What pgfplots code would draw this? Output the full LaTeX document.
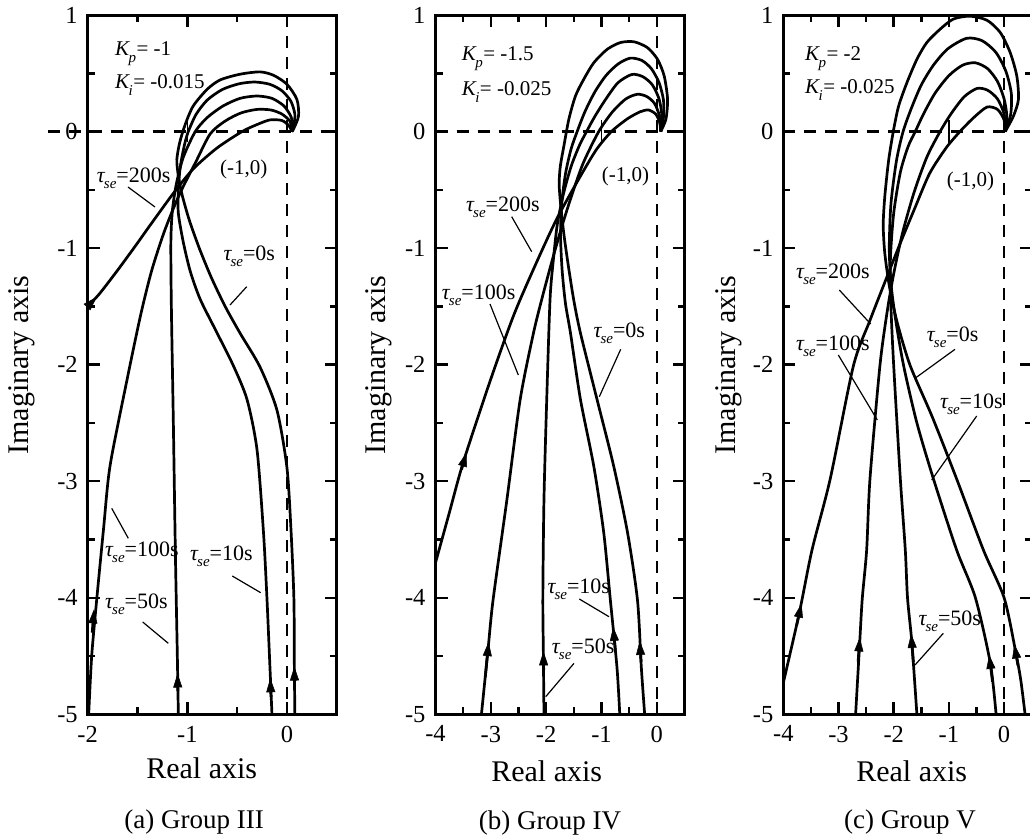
\documentclass[border=0pt]{standalone}
\usepackage{fontspec}
\setmainfont{Liberation Serif}
\usepackage{pgfplots}
\pgfplotsset{compat=1.18}
\usetikzlibrary{arrows.meta}

\newcommand{\an}{\fontsize{22}{26}\selectfont}
\newcommand{\kn}{\fontsize{21}{26}\selectfont}
\newcommand{\tlab}[1]{\textit{τ}\kern-1.5pt\raisebox{-6pt}{\fontsize{15}{15}\selectfont\textit{se}}=#1}
\newcommand{\klab}[2]{\textit{K}\kern-1.5pt\raisebox{-7pt}{\fontsize{15}{15}\selectfont\textit{#1}}\kern0.5pt= #2}

\tikzset{dsh/.style={line width=2.5pt, dash pattern=on 12pt off 9pt},
  ann/.style={anchor=base west, inner sep=0pt, font=\an},
  kann/.style={anchor=base west, inner sep=0pt, font=\kn}, ld/.style={line width=1.2pt}}
\pgfplotsset{
  panel/.style={
    scale only axis, height=699.3pt, anchor=south west,
    ymin=-5, ymax=1, ytick={-5,-4,-3,-2,-1,0,1}, yticklabels={-5,-4,-3,-2,-1,0,1},
    minor x tick num=1, minor y tick num=1,
    tick align=inside, major tick length=12pt, minor tick length=7pt,
    axis line style={line width=3pt},
    every tick/.style={line width=2.5pt, black},
    tick label style={font=\fontsize{24.5}{24.5}\selectfont},
    xticklabel style={yshift=-8pt}, yticklabel style={xshift=-6.5pt},
    clip=false,
  },
  crv/.style={line width=2.7pt, black, smooth, tension=0.45, mark=none},
  arr/.style={line width=2.7pt, black, mark=none, -{Triangle[length=14pt,width=9pt,line width=0.5pt]}},
}

\begin{document}
\begin{tikzpicture}
% ---------------- (a) ----------------
\begin{axis}[panel, at={(87.7pt,-714.3pt)}, width=249pt, xmin=-2, xmax=0.5,
  xtick={-2,-1,0}, xticklabels={-2,-1,0}]
\draw[dsh] (axis cs:-2.4,0) -- (axis cs:0.39,0);
\draw[dsh] (axis cs:0,1) -- (axis cs:0,-5);
\draw[line width=1.5pt] (axis cs:-1,0.09) -- (axis cs:-1,-0.09);
% tau = 0 s
\addplot[crv] coordinates {(0.08,-5) (0.075,-4.6) (0.07,-4.0) (0.04,-3.4) (0.0,-2.88) (-0.10,-2.39) (-0.27,-2.02) (-0.47,-1.73) (-0.62,-1.50) (-0.76,-1.25) (-0.88,-1.0) (-0.98,-0.76) (-1.05,-0.55) (-1.09,-0.38) (-1.105,-0.24) (-1.075,-0.09) (-1.02,0.063) (-0.94,0.22) (-0.80,0.363) (-0.67,0.443) (-0.47,0.492) (-0.27,0.512) (-0.135,0.483) (0.0,0.406) (0.10,0.277) (0.117,0.134) (0.066,0.02) (0.05,0)};
\addplot[arr] coordinates {(0.077,-4.75) (0.075,-4.59)};
% tau = 10 s
\addplot[crv] coordinates {(-0.15,-5) (-0.17,-4.6) (-0.20,-4.01) (-0.235,-3.44) (-0.30,-2.73) (-0.40,-2.30) (-0.537,-2.01) (-0.70,-1.73) (-0.87,-1.44) (-0.97,-1.2) (-1.04,-0.95) (-1.09,-0.70) (-1.09,-0.5) (-1.07,-0.3) (-1.03,-0.12) (-0.99,0.0) (-0.91,0.15) (-0.80,0.27) (-0.65,0.36) (-0.48,0.41) (-0.32,0.425) (-0.17,0.405) (-0.05,0.35) (0.04,0.26) (0.08,0.15) (0.07,0.06) (0.05,0)};
\addplot[arr] coordinates {(-0.16,-4.85) (-0.167,-4.69)};
% tau = 50 s
\addplot[crv] coordinates {(-1.09,-5) (-1.10,-4.5) (-1.12,-3.6) (-1.14,-2.5) (-1.16,-1.5) (-1.165,-0.95) (-1.15,-0.68) (-1.11,-0.45) (-1.04,-0.22) (-0.92,0.0) (-0.80,0.12) (-0.64,0.22) (-0.47,0.285) (-0.30,0.305) (-0.15,0.285) (-0.03,0.22) (0.04,0.13) (0.06,0.05) (0.05,0)};
\addplot[arr] coordinates {(-1.095,-4.8) (-1.098,-4.65)};
% tau = 100 s
\addplot[crv] coordinates {(-1.99,-5) (-1.96,-4.5) (-1.91,-4.02) (-1.84,-3.4) (-1.776,-2.87) (-1.61,-2.15) (-1.47,-1.58) (-1.36,-1.2) (-1.24,-0.88) (-1.13,-0.64) (-1.04,-0.47) (-0.92,-0.27) (-0.77,-0.02) (-0.62,0.09) (-0.46,0.16) (-0.30,0.19) (-0.16,0.185) (-0.05,0.15) (0.03,0.09) (0.05,0.03) (0.05,0)};
\addplot[arr] coordinates {(-1.955,-4.3) (-1.937,-4.10)};
% tau = 200 s
\addplot[crv] coordinates {(-2,-1.50) (-1.88,-1.39) (-1.70,-1.19) (-1.52,-0.98) (-1.37,-0.80) (-1.14,-0.53) (-0.94,-0.32) (-0.70,-0.14) (-0.45,0.0) (-0.30,0.06) (-0.17,0.10) (-0.05,0.095) (0.02,0.05) (0.05,0)};
\addplot[arr] coordinates {(-2,-1.5) (-1.91,-1.42)};
\end{axis}
% ---------------- (b) ----------------
\begin{axis}[panel, at={(435.5pt,-714.3pt)}, width=249pt, xmin=-4, xmax=0.5,
  xtick={-4,-3,-2,-1,0}, xticklabels={-4,-3,-2,-1,0}]
\draw[dsh] (axis cs:-4,0) -- (axis cs:0.49,0);
\draw[dsh] (axis cs:0,1) -- (axis cs:0,-5);
\draw[line width=1.5pt] (axis cs:-1,0.1) -- (axis cs:-1,-0.1);
\addplot[crv] coordinates {(-0.22,-5) (-0.28,-4.6) (-0.35,-4.02) (-0.53,-3.44) (-0.78,-2.87) (-1.08,-2.30) (-1.38,-1.73) (-1.50,-1.45) (-1.60,-1.15) (-1.68,-0.88) (-1.74,-0.62) (-1.765,-0.45) (-1.745,-0.30) (-1.68,-0.124) (-1.59,0.106) (-1.47,0.306) (-1.32,0.449) (-1.14,0.59) (-0.896,0.706) (-0.655,0.764) (-0.41,0.77) (-0.17,0.72) (0.012,0.62) (0.133,0.477) (0.194,0.277) (0.164,0.106) (0.07,0)};
\addplot[arr] coordinates {(-0.285,-4.55) (-0.31,-4.37)};
\addplot[crv] coordinates {(-0.67,-5) (-0.72,-4.6) (-0.84,-4.02) (-0.96,-3.44) (-1.14,-2.87) (-1.38,-2.30) (-1.56,-1.73) (-1.65,-1.48) (-1.71,-1.2) (-1.74,-0.9) (-1.72,-0.62) (-1.65,-0.36) (-1.55,-0.15) (-1.44,0.0) (-1.30,0.17) (-1.12,0.34) (-0.92,0.48) (-0.70,0.58) (-0.48,0.63) (-0.27,0.61) (-0.10,0.54) (0.04,0.42) (0.12,0.27) (0.12,0.12) (0.07,0)};
\addplot[arr] coordinates {(-0.75,-4.45) (-0.79,-4.25)};
\addplot[crv] coordinates {(-2.04,-5) (-2.05,-4.5) (-2.06,-4.0) (-2.04,-3.16) (-1.99,-2.30) (-1.93,-1.44) (-1.87,-1.1) (-1.80,-0.80) (-1.69,-0.54) (-1.55,-0.30) (-1.40,-0.12) (-1.27,0.0) (-1.12,0.13) (-0.92,0.28) (-0.70,0.42) (-0.45,0.49) (-0.25,0.47) (-0.08,0.40) (0.04,0.28) (0.09,0.14) (0.07,0)};
\addplot[arr] coordinates {(-2.045,-4.62) (-2.05,-4.46)};
\addplot[crv] coordinates {(-3.17,-5) (-3.05,-4.44) (-2.96,-4.02) (-2.71,-3.16) (-2.47,-2.30) (-2.23,-1.73) (-2.08,-1.44) (-1.90,-1.12) (-1.72,-0.82) (-1.54,-0.55) (-1.33,-0.27) (-1.05,0.0) (-0.80,0.17) (-0.56,0.28) (-0.35,0.32) (-0.18,0.30) (-0.04,0.24) (0.05,0.13) (0.07,0)};
\addplot[arr] coordinates {(-3.10,-4.68) (-3.04,-4.38)};
\addplot[crv] coordinates {(-4,-3.70) (-3.75,-3.27) (-3.50,-2.84) (-3.02,-2.15) (-2.59,-1.58) (-2.2,-1.15) (-1.82,-0.76) (-1.45,-0.44) (-1.10,-0.16) (-0.82,0.0) (-0.53,0.11) (-0.30,0.17) (-0.15,0.185) (-0.02,0.15) (0.05,0.08) (0.07,0)};
\addplot[arr] coordinates {(-3.53,-2.90) (-3.44,-2.755)};
\end{axis}
% ---------------- (c) ----------------
\begin{axis}[panel, at={(783.3pt,-714.3pt)}, width=248.4pt, xmin=-4, xmax=0.5,
  xtick={-4,-3,-2,-1,0}, xticklabels={-4,-3,-2,-1,0}]
\draw[dsh] (axis cs:-4,0) -- (axis cs:0.49,0);
\draw[dsh] (axis cs:0,1) -- (axis cs:0,-5);
\draw[line width=1.5pt] (axis cs:-1,0.1) -- (axis cs:-1,-0.1);
\addplot[crv] coordinates {(0.38,-5) (0.30,-4.7) (0.20,-4.44) (0.0,-4.0) (-0.375,-3.59) (-0.86,-2.98) (-1.30,-2.45) (-1.70,-2.01) (-1.93,-1.65) (-2.07,-1.35) (-2.16,-1.05) (-2.19,-0.80) (-2.16,-0.55) (-2.09,-0.24) (-2.0,0.02) (-1.91,0.22) (-1.76,0.42) (-1.58,0.62) (-1.40,0.764) (-1.16,0.878) (-0.92,0.965) (-0.62,0.99) (-0.31,0.955) (-0.07,0.85) (0.11,0.678) (0.23,0.477) (0.26,0.277) (0.17,0.134) (0.02,0)};
\addplot[arr] coordinates {(0.25,-4.58) (0.185,-4.40)};
\addplot[crv] coordinates {(-0.145,-5) (-0.25,-4.56) (-0.52,-4.0) (-0.86,-3.59) (-1.28,-2.98) (-1.58,-2.5) (-1.82,-2.01) (-1.97,-1.6) (-2.05,-1.3) (-2.08,-1.0) (-2.05,-0.62) (-1.95,-0.25) (-1.83,0.0) (-1.68,0.2) (-1.50,0.4) (-1.28,0.57) (-1.02,0.71) (-0.68,0.80) (-0.40,0.78) (-0.15,0.68) (0.03,0.52) (0.13,0.33) (0.12,0.15) (0.02,0)};
\addplot[arr] coordinates {(-0.21,-4.72) (-0.27,-4.49)};
\addplot[crv] coordinates {(-1.58,-5) (-1.67,-4.39) (-1.75,-4.0) (-1.79,-3.59) (-1.88,-2.98) (-2.0,-2.01) (-2.05,-1.5) (-2.06,-1.1) (-2.0,-0.7) (-1.88,-0.35) (-1.74,-0.13) (-1.61,0.0) (-1.45,0.16) (-1.25,0.33) (-1.0,0.48) (-0.75,0.57) (-0.52,0.59) (-0.30,0.54) (-0.12,0.43) (0.0,0.28) (0.05,0.13) (0.02,0)};
\addplot[arr] coordinates {(-1.645,-4.55) (-1.685,-4.31)};
\addplot[crv] coordinates {(-2.69,-5) (-2.62,-4.42) (-2.57,-4.01) (-2.49,-3.59) (-2.43,-2.98) (-2.25,-2.01) (-2.12,-1.55) (-2.0,-1.22) (-1.84,-0.87) (-1.63,-0.52) (-1.40,-0.22) (-1.16,0.0) (-0.95,0.16) (-0.72,0.30) (-0.49,0.37) (-0.30,0.355) (-0.12,0.28) (0.0,0.15) (0.02,0)};
\addplot[arr] coordinates {(-2.645,-4.55) (-2.615,-4.34)};
\addplot[crv] coordinates {(-4,-4.73) (-3.71,-4.13) (-3.48,-3.59) (-3.15,-2.98) (-2.73,-2.01) (-2.43,-1.62) (-2.15,-1.28) (-1.90,-0.98) (-1.62,-0.66) (-1.35,-0.36) (-1.05,-0.14) (-0.80,0.0) (-0.55,0.12) (-0.31,0.21) (-0.12,0.19) (0.0,0.1) (0.02,0)};
\addplot[arr] coordinates {(-3.76,-4.24) (-3.67,-4.05)};
\end{axis}
% ---------------- labels ----------------
\foreach \xx in {22,379,729} {\node[rotate=90, font=\fontsize{30}{30}\selectfont] at (\xx pt,-365pt) {Imaginary axis};}
\node[anchor=base, font=\fontsize{30}{30}\selectfont] at (201.7pt,-778.3pt) {Real axis};
\node[anchor=base, font=\fontsize{30}{30}\selectfont] at (546.7pt,-781pt) {Real axis};
\node[anchor=base, font=\fontsize{30}{30}\selectfont] at (911.7pt,-781pt) {Real axis};
\node[anchor=base, font=\fontsize{27}{27}\selectfont] at (194.2pt,-828.3pt) {(a) Group III};
\node[anchor=base, font=\fontsize{27}{27}\selectfont] at (550pt,-829pt) {(b) Group IV};
\node[anchor=base, font=\fontsize{27}{27}\selectfont] at (910pt,-828.3pt) {(c) Group V};
% (a)
\node[kann] at (115pt,-55pt) {\klab{p}{-1}};
\node[kann] at (115pt,-88.3pt) {\klab{i}{-0.015}};
\node[kann] at (220pt,-174pt) {(-1,0)};
\node[ann] at (96.7pt,-182pt) {\tlab{200s}};
\node[ann] at (223.3pt,-260pt) {\tlab{0s}};
\node[ann] at (105pt,-556.7pt) {\tlab{100s}};
\node[ann] at (190pt,-560pt) {\tlab{10s}};
\node[ann] at (105pt,-608.3pt) {\tlab{50s}};
\draw[ld] (128pt,-187pt) -- (155pt,-207pt);
\draw[ld] (246.7pt,-286.7pt) -- (230pt,-305pt);
\draw[ld] (111.7pt,-508.3pt) -- (128.3pt,-538.3pt);
\draw[ld] (232.3pt,-576pt) -- (260.7pt,-592.7pt);
\draw[ld] (142.7pt,-622pt) -- (168.3pt,-643.3pt);
% (b)
\node[kann] at (461.7pt,-60pt) {\klab{p}{-1.5}};
\node[kann] at (461.7pt,-95pt) {\klab{i}{-0.025}};
\node[kann] at (601.7pt,-181.7pt) {(-1,0)};
\node[ann] at (466pt,-211.7pt) {\tlab{200s}};
\node[ann] at (441.7pt,-299pt) {\tlab{100s}};
\node[ann] at (593.3pt,-337.3pt) {\tlab{0s}};
\node[ann] at (547.3pt,-593.3pt) {\tlab{10s}};
\node[ann] at (551.7pt,-653.3pt) {\tlab{50s}};
\draw[ld] (511.7pt,-216.7pt) -- (531.7pt,-251.7pt);
\draw[ld] (490pt,-304pt) -- (518.3pt,-375pt);
\draw[ld] (620.7pt,-349.3pt) -- (599.3pt,-396.7pt);
\draw[ld] (579.3pt,-599pt) -- (609pt,-616.7pt);
\draw[ld] (574pt,-663.3pt) -- (545.7pt,-696.7pt);
% (c)
\node[kann] at (805pt,-60pt) {\klab{p}{-2}};
\node[kann] at (805pt,-93.3pt) {\klab{i}{-0.025}};
\node[kann] at (946.7pt,-186.7pt) {(-1,0)};
\node[ann] at (796pt,-278.3pt) {\tlab{200s}};
\node[ann] at (796pt,-350pt) {\tlab{100s}};
\node[ann] at (926.7pt,-341.7pt) {\tlab{0s}};
\node[ann] at (940pt,-408.3pt) {\tlab{10s}};
\node[ann] at (918.3pt,-625pt) {\tlab{50s}};
\draw[ld] (839.3pt,-290pt) -- (870.7pt,-324pt);
\draw[ld] (838.3pt,-355pt) -- (877.3pt,-420pt);
\draw[ld] (955pt,-349.3pt) -- (915pt,-378.3pt);
\draw[ld] (976.7pt,-416pt) -- (931.7pt,-480pt);
\draw[ld] (943.3pt,-633.3pt) -- (915pt,-665pt);
\pgfresetboundingbox
\path[use as bounding box] (0pt,0pt) rectangle (1030pt,-838pt);
\end{tikzpicture}
\end{document}
